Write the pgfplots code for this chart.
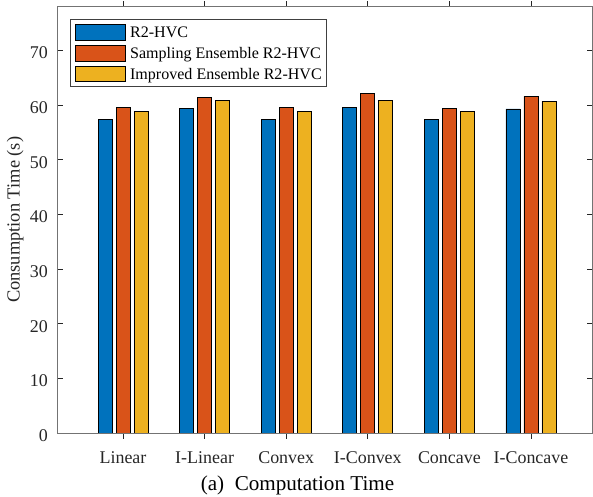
\documentclass[border=0pt]{standalone}
\usepackage{fontspec}
\setmainfont{Liberation Serif}
\usepackage{pgfplots}
\pgfplotsset{compat=1.18}
\definecolor{mblue}{HTML}{0072BD}
\definecolor{morange}{HTML}{D95319}
\definecolor{myellow}{HTML}{EDB120}
\definecolor{axgray}{gray}{0.15}
\begin{document}
\begin{tikzpicture}
\useasboundingbox (0,0) rectangle (593bp,497bp);
\begin{axis}[
  at={(57bp,64bp)}, anchor=south west,
  scale only axis,
  width=535.5bp, height=426.3bp,
  xmin=0.191, xmax=6.754,
  ymin=0, ymax=78,
  xtick={1,2,3,4,5,6},
  xticklabels={Linear,I-Linear,Convex,I-Convex,Concave,I-Concave},
  ytick={0,10,20,30,40,50,60,70},
  /pgf/number format/assume math mode=true,
  tick align=inside,
  major tick length=5.5bp,
  axis line style={draw=black!55, line width=0.8bp},
  every tick/.style={draw=axgray, line width=0.7bp},
  ticklabel style={font=\fontsize{18}{21}\selectfont, text=axgray},
  xticklabel style={anchor=base, yshift=-25bp},
  yticklabel style={anchor=east, inner sep=0pt, xshift=-9bp, yshift=-2.5bp},
  ylabel={Consumption Time (s)},
  ylabel style={font=\fontsize{18.5}{21}\selectfont, text=axgray, at={(axis description cs:-0.07003,0.5)}, anchor=base},
  ybar, bar width=14bp,
  axis on top,
  legend cell align=left,
  legend image code/.code={\draw[#1] (0bp,-7.85bp) rectangle (50bp,7.85bp);},
  legend style={at={(axis description cs:0,1)}, anchor=north west, xshift=13bp, yshift=-12.6bp,
    draw=black!75, line width=0.7bp, fill=white,
    inner xsep=5bp, inner ysep=4.6bp,
    row sep=4.2bp, column sep=4bp,
    font=\fontsize{16.1}{18}\selectfont, text=black,
    nodes={inner sep=0bp, text height=13bp, text depth=2.5bp}},
]
\addplot[bar shift=-18bp, fill=mblue, draw=black, line width=0.8bp] coordinates {(1,57.4) (2,59.4) (3,57.4) (4,59.5) (5,57.3) (6,59.3)};
\addplot[bar shift=0bp, fill=morange, draw=black, line width=0.8bp] coordinates {(1,59.5) (2,61.4) (3,59.5) (4,62.1) (5,59.4) (6,61.6)};
\addplot[bar shift=18bp, fill=myellow, draw=black, line width=0.8bp] coordinates {(1,58.9) (2,60.8) (3,58.9) (4,60.9) (5,58.9) (6,60.7)};
\legend{R2-HVC, Sampling Ensemble R2-HVC, Improved Ensemble R2-HVC}
\end{axis}
\node[anchor=base, font=\fontsize{21.2}{25}\selectfont, text=black] at (297.5bp,6.3bp) {(a)\hspace{10.5bp}Computation Time};
\end{tikzpicture}
\end{document}
